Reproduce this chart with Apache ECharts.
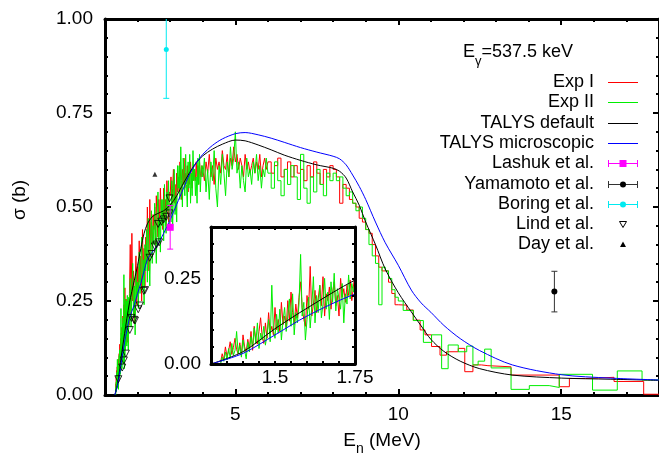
<!DOCTYPE html>
<html>
<head>
<meta charset="utf-8">
<script src="https://cdn.jsdelivr.net/npm/echarts@6/dist/echarts.min.js"></script>
<style>
  html, body { margin: 0; padding: 0; background: #fff; }
  #chart { width: 659px; height: 453px; }
</style>
</head>
<body>
<div id="chart"></div>
<script>
const FONT = '"Liberation Sans", Arial, Helvetica, sans-serif';

// ---- Exp I / Exp II histograms (cross section in barn) ----
// threshold region, 5 keV bins starting at 1.33 MeV
const lowStart = 1.33, lowStep = 0.005;
const expILow = [
  0.005,0.030,0.012,0.050,0.022,0.038,0.065,0.028,0.048,0.075,
  0.042,0.030,0.062,0.025,0.085,0.050,0.035,0.072,0.045,0.095,
  0.040,0.110,0.070,0.058,0.095,0.135,0.080,0.060,0.120,0.075,
  0.150,0.090,0.110,0.085,0.165,0.100,0.130,0.095,0.180,0.115,
  0.140,0.105,0.185,0.125,0.210,0.150,0.115,0.175,0.135,0.195,
  0.240,0.165,0.130,0.110,0.200,0.160,0.285,0.140,0.175,0.215,
  0.150,0.190,0.230,0.170,0.255,0.140,0.205,0.185,0.225,0.160,
  0.210,0.240,0.170,0.200,0.140,0.250,0.195,0.220,0.180,0.230,
  0.200,0.245,0.185,0.225];
const expIILow = [
  0.000,0.020,0.008,0.035,0.012,0.045,0.018,0.060,0.025,0.040,
  0.095,0.030,0.055,0.020,0.070,0.040,0.015,0.065,0.035,0.080,
  0.050,0.105,0.060,0.120,0.045,0.090,0.070,0.110,0.055,0.085,
  0.130,0.065,0.230,0.100,0.075,0.145,0.090,0.160,0.070,0.125,
  0.165,0.095,0.140,0.190,0.110,0.205,0.085,0.150,0.120,0.175,
  0.320,0.140,0.180,0.070,0.130,0.195,0.105,0.170,0.255,0.120,
  0.200,0.150,0.230,0.135,0.175,0.250,0.160,0.210,0.130,0.240,
  0.180,0.265,0.155,0.220,0.190,0.160,0.235,0.120,0.205,0.175,
  0.260,0.190,0.235,0.210];

// rising edge, 25 keV bins from 1.75 MeV
const midStart = 1.75, midStep = 0.025;
const expIMid = [
  0.27,0.40,0.21,0.43,0.25,0.33,0.19,0.30,0.37,0.24,
  0.34,0.27,0.41,0.30,0.37,0.25,0.44,0.32,0.39,0.29,
  0.42,0.35,0.50,0.39,0.33,0.52,0.40,0.46,0.37,0.48,
  0.44,0.50,0.40,0.53,0.46,0.42,0.52,0.45,0.55,0.48,
  0.49,0.44,0.55,0.47,0.52,0.45,0.57,0.50,0.46,0.54,
  0.53,0.58,0.50,0.55,0.60,0.51,0.56,0.49,0.59,0.54,
  0.58,0.54,0.62,0.57,0.52,0.60,0.56,0.63,0.55,0.59,
  0.57,0.61,0.54,0.59,0.56,0.62,0.58,0.55,0.60,0.57,
  0.60,0.57,0.62,0.58,0.61,0.56,0.62,0.59,0.58,0.61];
const expIIMid = [
  0.24,0.31,0.18,0.28,0.35,0.21,0.29,0.16,0.33,0.26,
  0.30,0.23,0.38,0.27,0.34,0.42,0.28,0.36,0.24,0.40,
  0.33,0.44,0.30,0.47,0.37,0.29,0.42,0.49,0.35,0.45,
  0.40,0.51,0.43,0.35,0.48,0.54,0.41,0.47,0.38,0.52,
  0.45,0.52,0.41,0.56,0.47,0.43,0.54,0.49,0.57,0.44,
  0.51,0.46,0.57,0.44,0.54,0.60,0.48,0.53,0.46,0.61,
  0.55,0.61,0.52,0.66,0.57,0.50,0.63,0.58,0.53,0.64,
  0.56,0.50,0.62,0.55,0.64,0.51,0.59,0.53,0.65,0.57,
  0.60,0.53,0.58,0.51,0.63,0.56,0.64,0.54,0.59,0.61];

// plateau, 50 keV bins from 4 MeV
const plateauStart = 4.0, plateauStep = 0.05;
const expIPlateau = [
  0.60,0.57,0.62,0.59,0.64,0.58,0.61,0.56,0.63,0.60,
  0.62,0.59,0.65,0.61,0.60,0.64,0.58,0.63,0.61,0.66,
  0.62,0.64,0.60,0.63,0.61,0.58,0.64,0.60,0.62,0.59,
  0.61,0.63,0.59,0.62,0.60,0.64,0.58,0.61,0.63,0.60];
const expIIPlateau = [
  0.58,0.63,0.54,0.60,0.52,0.62,0.57,0.65,0.55,0.50,
  0.61,0.56,0.64,0.59,0.53,0.62,0.58,0.66,0.60,0.63,
  0.70,0.59,0.62,0.55,0.61,0.57,0.54,0.63,0.58,0.60,
  0.56,0.62,0.59,0.64,0.57,0.61,0.55,0.60,0.58,0.63];

// falling edge, 100 keV bins from 6 MeV
const fallStart = 6.0, fallStep = 0.1;
const expIFall = [
  0.62,0.59,0.61,0.63,0.58,0.60,0.62,0.58,0.61,0.59,
  0.60,0.57,0.61,0.58,0.62,0.59,0.56,0.60,0.58,0.61,
  0.60,0.58,0.51,0.56,0.55,0.52,0.51,0.50,0.47,0.46,
  0.44,0.43,0.40,0.37,0.34,0.33,0.33,0.30,0.27,0.24];
const expIIFall = [
  0.59,0.55,0.62,0.57,0.53,0.60,0.56,0.61,0.58,0.52,
  0.64,0.55,0.51,0.58,0.54,0.60,0.56,0.53,0.59,0.57,
  0.59,0.57,0.58,0.55,0.53,0.54,0.51,0.49,0.50,0.47,
  0.44,0.40,0.37,0.35,0.24,0.34,0.33,0.31,0.28,0.26];

// high-energy tail, wide bins (edges in MeV)
const expITailEdges = [10.0,10.26,10.46,10.67,10.82,11.02,11.28,11.48,11.84,12.04,
  12.29,12.55,12.75,13.46,14.94,15.25,15.75,16.62,17.53,18.0];
const expITail = [0.239,0.226,0.199,0.173,0.160,0.129,0.106,0.115,0.124,0.062,
  0.080,0.078,0.075,0.053,0.022,0.044,0.047,0.036,0.002];
const expIITailEdges = [10.0,10.15,10.46,10.77,11.02,11.33,11.53,11.84,12.1,12.29,
  12.45,12.65,12.85,13.46,14.02,14.63,14.94,15.96,16.72,17.48,18.0];
const expIITail = [0.250,0.225,0.198,0.140,0.160,0.070,0.133,0.115,0.130,0.080,
  0.090,0.122,0.072,0.015,0.025,0.020,0.055,0.013,0.064,0.040];

// ---- TALYS calculations ----
const talysE = [1.3,1.4,1.5,1.6,1.75,1.9,2.0,2.1,2.2,2.3,2.45,2.6,2.8,3.0,3.2,3.4,3.6,3.8,
  4.0,4.3,4.6,5.0,5.3,5.7,6.1,6.5,7.0,7.5,8.0,8.2,8.4,8.6,8.8,9.0,9.3,9.6,
  10.0,10.4,10.7,11.0,11.4,11.9,12.5,13.5,15.0,16.5,18.0];
const talysDefault = [0,0.036,0.103,0.163,0.245,0.305,0.345,0.390,0.430,0.455,0.474,0.482,0.490,0.505,0.530,0.562,0.592,0.618,
  0.636,0.654,0.667,0.678,0.676,0.665,0.652,0.638,0.624,0.612,0.603,0.595,0.577,0.540,0.505,0.460,0.400,0.335,
  0.272,0.221,0.184,0.148,0.116,0.090,0.070,0.053,0.045,0.042,0.039];
const talysMicro = [0,0.031,0.085,0.140,0.204,0.240,0.270,0.297,0.330,0.360,0.380,0.397,0.430,0.466,0.507,0.548,0.588,0.617,
  0.640,0.664,0.681,0.695,0.698,0.692,0.683,0.672,0.658,0.646,0.635,0.628,0.612,0.585,0.555,0.520,0.460,0.405,
  0.345,0.279,0.245,0.220,0.185,0.150,0.118,0.080,0.054,0.045,0.040];

// ---- earlier measurements ----
const lindE = [1.41,1.53,1.58,1.64,1.76,1.81,1.89,1.92,2.02,2.07,2.19,2.23,2.37,2.43,2.53,2.58,2.66,2.63,2.73,2.80,2.88,2.98,2.98];
const lindSigma = [0.042,0.073,0.092,0.110,0.173,0.205,0.200,0.198,0.228,0.238,0.277,0.279,0.365,0.375,0.395,0.400,0.406,0.455,0.461,0.467,0.474,0.483,0.523];
const dayE = [2.53];
const daySigma = [0.587];
const lashukE = [3.0], lashukSigma = [0.446], lashukErr = [0.058];
const yamamotoE = [14.79], yamamotoSigma = [0.275], yamamotoErr = [0.054];
const boringE = [2.88], boringSigma = [0.919], boringErr = [0.13];

// axis ticks
const xMajorTicks = [5, 10, 15];
const SIGMA_MAX = 1.0;

// ---- helpers ----
function regularBins(start, step, values) {
  return values.map((v, i) => [+(start + i * step).toFixed(4), v]);
}
function edgeBins(edges, values) {
  return values.map((v, i) => [edges[i], v]);
}
function histogram(parts, endE) {
  const pts = [].concat(...parts);
  pts.push([endE, pts[pts.length - 1][1]]);
  return pts;
}
const zip = (a, b) => a.map((v, i) => [v, b[i]]);
const zip3 = (a, b, c) => a.map((v, i) => [v, b[i], c[i]]);

const expIData = histogram([
  regularBins(lowStart, lowStep, expILow),
  regularBins(midStart, midStep, expIMid),
  regularBins(plateauStart, plateauStep, expIPlateau),
  regularBins(fallStart, fallStep, expIFall),
  edgeBins(expITailEdges, expITail)], 18.0);
const expIIData = histogram([
  regularBins(lowStart, lowStep, expIILow),
  regularBins(midStart, midStep, expIIMid),
  regularBins(plateauStart, plateauStep, expIIPlateau),
  regularBins(fallStart, fallStep, expIIFall),
  edgeBins(expIITailEdges, expIITail)], 18.0);

const RED = '#ff0000', GREEN = '#00ee00', BLUE = '#0000ff', MAGENTA = '#ff00ff', CYAN = '#00eaf0';

function errorBar(marker, lineColor, fillColor, size) {
  return function (params, api) {
    const x = api.value(0), y = api.value(1), err = api.value(2);
    const hi = y + err, lo = y - err;
    const pTop = api.coord([x, Math.min(hi, SIGMA_MAX)]);
    const pBot = api.coord([x, lo]);
    const pMid = api.coord([x, y]);
    const cap = 3;
    const st = { stroke: lineColor, lineWidth: 1 };
    const children = [
      { type: 'line', shape: { x1: pTop[0], y1: pTop[1], x2: pBot[0], y2: pBot[1] }, style: st },
      { type: 'line', shape: { x1: pBot[0] - cap, y1: pBot[1], x2: pBot[0] + cap, y2: pBot[1] }, style: st }
    ];
    if (hi <= SIGMA_MAX) {
      children.push({ type: 'line', shape: { x1: pTop[0] - cap, y1: pTop[1], x2: pTop[0] + cap, y2: pTop[1] }, style: st });
    }
    if (marker === 'square') {
      children.push({ type: 'rect', shape: { x: pMid[0] - size / 2, y: pMid[1] - size / 2, width: size, height: size }, style: { fill: fillColor } });
    } else {
      children.push({ type: 'circle', shape: { cx: pMid[0], cy: pMid[1], r: size / 2 }, style: { fill: fillColor } });
    }
    return { type: 'group', children };
  };
}

// ---- axes ----
const thick = { color: '#000', width: 3 };
const tickStyle = { color: '#000', width: 2 };
const labelStyle = { color: '#000', fontSize: 19, fontFamily: FONT };

function mainX(position, major) {
  return {
    type: 'value', gridIndex: 0, position, min: 1, max: 18, interval: 1,
    axisLine: { show: !major, onZero: false, lineStyle: thick },
    axisTick: major
      ? { inside: true, length: 6, lineStyle: tickStyle, customValues: xMajorTicks }
      : { inside: true, length: 3, lineStyle: tickStyle },
    axisLabel: (major && position === 'bottom')
      ? Object.assign({ margin: 10, customValues: xMajorTicks,
          formatter: v => xMajorTicks.indexOf(v) >= 0 ? String(v) : '' }, labelStyle)
      : { show: false },
    splitLine: { show: false }
  };
}
function mainY(position) {
  return {
    type: 'value', gridIndex: 0, position, min: 0, max: 1, interval: 0.25,
    axisLine: { show: true, onZero: false, lineStyle: thick },
    axisTick: { inside: true, length: 6, lineStyle: tickStyle },
    minorTick: { show: true, splitNumber: 5, length: 3, lineStyle: tickStyle },
    axisLabel: position === 'left'
      ? Object.assign({ margin: 12, formatter: v => v.toFixed(2) }, labelStyle)
      : { show: false },
    splitLine: { show: false }, minorSplitLine: { show: false }
  };
}
const near = (a, b) => Math.abs(a - b) < 1e-6;
function insetX(position) {
  return {
    type: 'value', gridIndex: 1, position, min: 1.3, max: 1.75, interval: 0.05, z: 8,
    axisLine: { show: true, onZero: false, lineStyle: thick },
    axisTick: { inside: true, length: 3, lineStyle: tickStyle },
    axisLabel: position === 'bottom'
      ? Object.assign({ margin: 4, showMaxLabel: true, showMinLabel: true,
          formatter: v => near(v, 1.5) ? '1.5' : (near(v, 1.75) ? '1.75' : '') }, labelStyle)
      : { show: false },
    splitLine: { show: false }
  };
}
function insetY(position) {
  return {
    type: 'value', gridIndex: 1, position, min: 0, max: 0.4, interval: 0.05, z: 8,
    axisLine: { show: true, onZero: false, lineStyle: thick },
    axisTick: { inside: true, length: 3, lineStyle: tickStyle },
    axisLabel: position === 'left'
      ? Object.assign({ margin: 10,
          formatter: v => (near(v, 0) || near(v, 0.25)) ? v.toFixed(2) : '' }, labelStyle)
      : { show: false },
    splitLine: { show: false }
  };
}

// ---- legend (drawn as graphics, right-aligned text with samples) ----
const legendRows = [
  { name: 'Exp I', kind: 'line', color: RED },
  { name: 'Exp II', kind: 'line', color: GREEN },
  { name: 'TALYS default', kind: 'line', color: '#000' },
  { name: 'TALYS microscopic', kind: 'line', color: BLUE },
  { name: 'Lashuk et al.', kind: 'bar', color: MAGENTA, marker: 'square' },
  { name: 'Yamamoto et al.', kind: 'bar', color: '#333', fill: '#000', marker: 'circle' },
  { name: 'Boring et al.', kind: 'bar', color: CYAN, marker: 'circle' },
  { name: 'Lind et al.', kind: 'down' },
  { name: 'Day et al.', kind: 'up' }
];
const graphics = [];
const legTextX = 594, legX1 = 608, legX2 = 638, legXc = 623;
legendRows.forEach((row, i) => {
  const y = Math.round(82 + i * 20.3);
  graphics.push({ type: 'text', x: legTextX, y,
    style: { text: row.name, align: 'right', verticalAlign: 'middle', fill: '#000', font: '18px ' + FONT } });
  if (row.kind === 'line' || row.kind === 'bar') {
    graphics.push({ type: 'line', shape: { x1: legX1, y1: y + 0.5, x2: legX2, y2: y + 0.5 }, style: { stroke: row.color, lineWidth: 1 } });
  }
  if (row.kind === 'bar') {
    graphics.push({ type: 'line', shape: { x1: legX1 + 0.5, y1: y - 3, x2: legX1 + 0.5, y2: y + 4 }, style: { stroke: row.color, lineWidth: 1 } });
    graphics.push({ type: 'line', shape: { x1: legX2 - 0.5, y1: y - 3, x2: legX2 - 0.5, y2: y + 4 }, style: { stroke: row.color, lineWidth: 1 } });
    if (row.marker === 'square') {
      graphics.push({ type: 'rect', shape: { x: legXc - 3.5, y: y - 3, width: 7, height: 7 }, style: { fill: row.color } });
    } else {
      graphics.push({ type: 'circle', shape: { cx: legXc, cy: y + 0.5, r: 3 }, style: { fill: row.fill || row.color } });
    }
  }
  if (row.kind === 'down') {
    graphics.push({ type: 'polygon', shape: { points: [[legXc - 3.5, y - 2.5], [legXc + 3.5, y - 2.5], [legXc, y + 3.5]] },
      style: { fill: '#fff', stroke: '#000', lineWidth: 1 } });
  }
  if (row.kind === 'up') {
    graphics.push({ type: 'polygon', shape: { points: [[legXc - 3, y + 3], [legXc + 3, y + 3], [legXc, y - 2.5]] },
      style: { fill: '#000' } });
  }
});
// gamma-ray energy annotation
graphics.push({ type: 'text', x: 463, y: 37.5,
  style: { text: '{a|E}{b|γ}{a|=537.5 keV}', align: 'left', verticalAlign: 'top', fill: '#000',
    rich: { a: { fontSize: 18, fontFamily: FONT, lineHeight: 30 },
            b: { fontSize: 13, fontFamily: FONT, lineHeight: 14, verticalAlign: 'bottom' } } } });
// axis titles
graphics.push({ type: 'text', x: 382, y: 441,
  style: { text: '{a|E}{b|n}{a| (MeV)}', align: 'center', verticalAlign: 'middle', fill: '#000',
    rich: { a: { fontSize: 19, fontFamily: FONT, lineHeight: 30 },
            b: { fontSize: 14, fontFamily: FONT, lineHeight: 15, verticalAlign: 'bottom' } } } });
graphics.push({ type: 'text', x: 20, y: 200, rotation: Math.PI / 2,
  style: { text: 'σ (b)', align: 'center', verticalAlign: 'middle', fill: '#000', font: '19px ' + FONT } });

const chart = echarts.init(document.getElementById('chart'), null, { renderer: 'canvas' });
chart.setOption({
  animation: false,
  backgroundColor: '#fff',
  grid: [
    { left: 105, top: 19, width: 557, height: 376, containLabel: false },
    { left: 211, top: 227, width: 144, height: 137, show: true, backgroundColor: '#fff', borderWidth: 0, z: 6 }
  ],
  xAxis: [mainX('bottom', false), mainX('bottom', true), mainX('top', false), mainX('top', true), insetX('bottom'), insetX('top')],
  yAxis: [mainY('left'), mainY('right'), insetY('left'), insetY('right')],
  graphic: graphics,
  series: [
    { name: 'Exp I', type: 'line', xAxisIndex: 0, yAxisIndex: 0, data: expIData, step: 'end', symbol: 'none',
      lineStyle: { color: RED, width: 1 }, itemStyle: { color: RED }, z: 2 },
    { name: 'Exp II', type: 'line', xAxisIndex: 0, yAxisIndex: 0, data: expIIData, step: 'end', symbol: 'none',
      lineStyle: { color: GREEN, width: 1 }, itemStyle: { color: GREEN }, z: 3 },
    { name: 'TALYS default', type: 'line', xAxisIndex: 0, yAxisIndex: 0, data: zip(talysE, talysDefault), smooth: 0.3,
      symbol: 'none', lineStyle: { color: '#000', width: 1 }, itemStyle: { color: '#000' }, z: 4 },
    { name: 'TALYS microscopic', type: 'line', xAxisIndex: 0, yAxisIndex: 0, data: zip(talysE, talysMicro), smooth: 0.3,
      symbol: 'none', lineStyle: { color: BLUE, width: 1 }, itemStyle: { color: BLUE }, z: 4 },
    { name: 'Lind et al.', type: 'scatter', xAxisIndex: 0, yAxisIndex: 0, data: zip(lindE, lindSigma),
      symbol: 'triangle', symbolRotate: 180, symbolSize: 7,
      itemStyle: { color: 'rgba(255,255,255,0)', borderColor: '#000', borderWidth: 1 }, z: 5 },
    { name: 'Day et al.', type: 'scatter', xAxisIndex: 0, yAxisIndex: 0, data: zip(dayE, daySigma),
      symbol: 'triangle', symbolSize: 5, itemStyle: { color: '#000' }, z: 5 },
    { name: 'Lashuk et al.', type: 'custom', xAxisIndex: 0, yAxisIndex: 0, data: zip3(lashukE, lashukSigma, lashukErr),
      encode: { x: 0, y: 1 }, renderItem: errorBar('square', MAGENTA, MAGENTA, 7), z: 6 },
    { name: 'Yamamoto et al.', type: 'custom', xAxisIndex: 0, yAxisIndex: 0, data: zip3(yamamotoE, yamamotoSigma, yamamotoErr),
      encode: { x: 0, y: 1 }, renderItem: errorBar('circle', '#333', '#000', 6), z: 6 },
    { name: 'Boring et al.', type: 'custom', xAxisIndex: 0, yAxisIndex: 0, data: zip3(boringE, boringSigma, boringErr),
      encode: { x: 0, y: 1 }, renderItem: errorBar('circle', CYAN, CYAN, 5), z: 6 },
    // inset: threshold region enlarged
    { name: 'Exp I', type: 'line', xAxisIndex: 4, yAxisIndex: 2, data: expIData, step: 'end', symbol: 'none',
      lineStyle: { color: RED, width: 1 }, z: 7 },
    { name: 'Exp II', type: 'line', xAxisIndex: 4, yAxisIndex: 2, data: expIIData, step: 'end', symbol: 'none',
      lineStyle: { color: GREEN, width: 1 }, z: 7 },
    { name: 'TALYS default', type: 'line', xAxisIndex: 4, yAxisIndex: 2, data: zip(talysE, talysDefault), smooth: 0.3,
      symbol: 'none', lineStyle: { color: '#000', width: 1 }, z: 7 },
    { name: 'TALYS microscopic', type: 'line', xAxisIndex: 4, yAxisIndex: 2, data: zip(talysE, talysMicro), smooth: 0.3,
      symbol: 'none', lineStyle: { color: BLUE, width: 1 }, z: 7 }
  ]
});
</script>
</body>
</html>
